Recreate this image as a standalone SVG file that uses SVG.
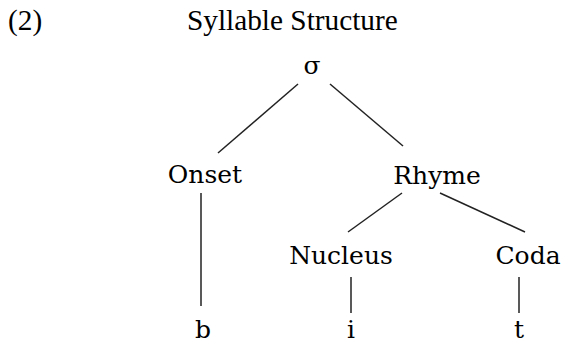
<svg xmlns="http://www.w3.org/2000/svg" width="568" height="345" viewBox="0 0 568 345">
<style>
.title{font-family:"Liberation Serif","Times New Roman",serif;font-size:29.3px;fill:#000}
.n{font-family:"DejaVu Serif",serif;font-size:25px;fill:#000;text-anchor:middle}
.e{stroke:#222;stroke-width:1.5;fill:none}
</style>
<rect width="568" height="345" fill="#fff"/>
<text class="title" x="8" y="30">(2)</text>
<text class="title" x="187" y="30">Syllable Structure</text>
<g id="connectors">
<line class="e" x1="298" y1="84" x2="218" y2="153"/>
<line class="e" x1="330" y1="84" x2="403" y2="146"/>
<line class="e" x1="201" y1="193" x2="201" y2="306"/>
<line class="e" x1="402" y1="193" x2="348" y2="232"/>
<line class="e" x1="440" y1="193" x2="525" y2="232"/>
<line class="e" x1="351" y1="277" x2="351" y2="313"/>
<line class="e" x1="519" y1="277" x2="519" y2="313"/>
</g>
<g id="sigma"><text class="n" x="312" y="74">σ</text></g>
<g id="onset"><text class="n" x="205" y="183">Onset</text></g>
<g id="rhyme"><text class="n" x="437" y="184">Rhyme</text></g>
<g id="nucleus"><text class="n" x="341" y="264">Nucleus</text></g>
<g id="coda"><text class="n" x="528" y="264">Coda</text></g>
<g id="b"><text class="n" x="203" y="338">b</text></g>
<g id="i"><text class="n" x="351" y="338">i</text></g>
<g id="t"><text class="n" x="519" y="338">t</text></g>
</svg>
